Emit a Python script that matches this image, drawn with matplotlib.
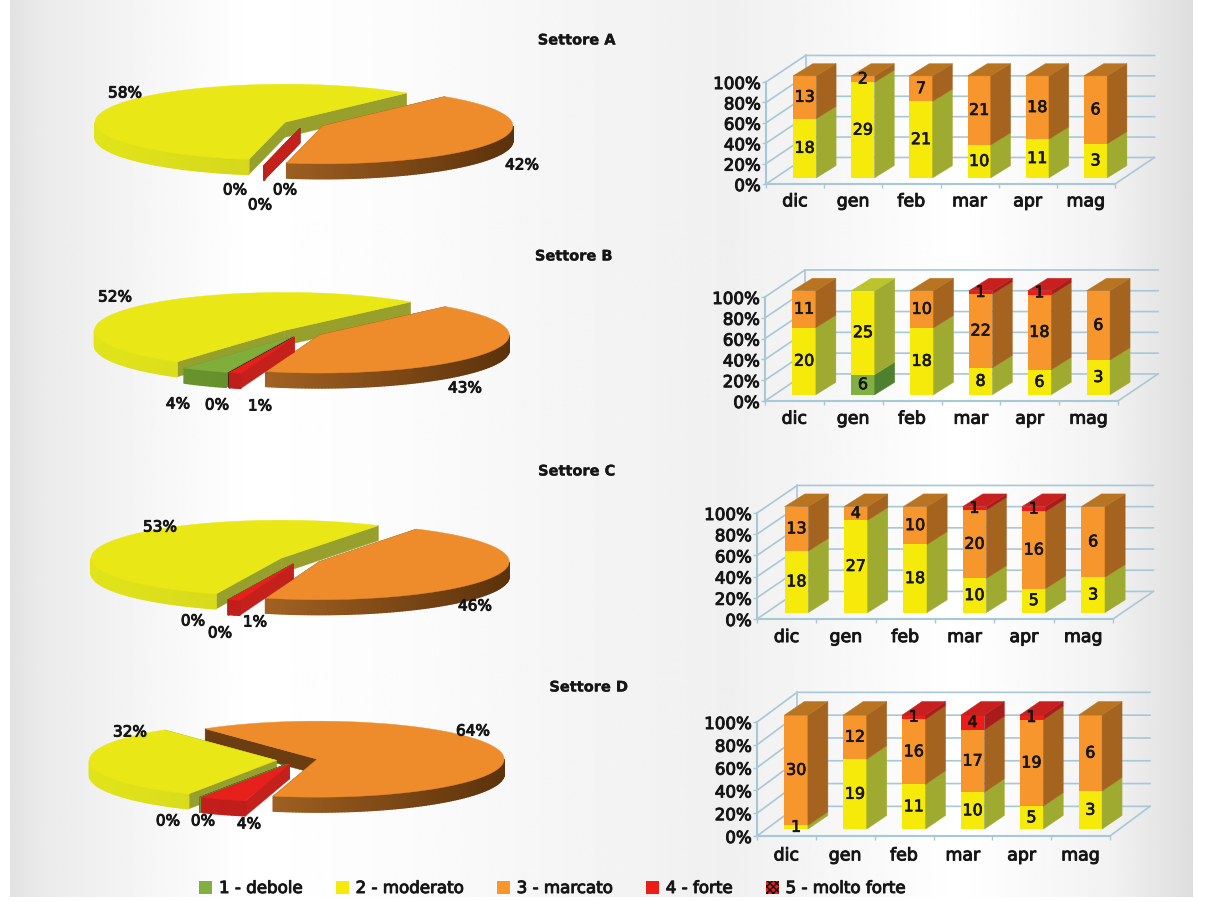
import numpy as np
import matplotlib
matplotlib.use('Agg')
import matplotlib.pyplot as plt
import matplotlib.patheffects as pe
from matplotlib.colors import to_rgb
from matplotlib.patches import Patch

W, H = 1205, 902

# data
sectors = ['Settore A', 'Settore B', 'Settore C', 'Settore D']
classes = ['1 - debole', '2 - moderato', '3 - marcato', '4 - forte', '5 - molto forte']
months = ['dic', 'gen', 'feb', 'mar', 'apr', 'mag']

pie_a = [0, 58, 42, 0, 0]
pie_b = [4, 52, 43, 1, 0]
pie_c = [0, 53, 46, 1, 0]
pie_d = [0, 32, 64, 4, 0]

debole_a = [0, 0, 0, 0, 0, 0]
moderato_a = [18, 29, 21, 10, 11, 3]
marcato_a = [13, 2, 7, 21, 18, 6]
forte_a = [0, 0, 0, 0, 0, 0]

debole_b = [0, 6, 0, 0, 0, 0]
moderato_b = [20, 25, 18, 8, 6, 3]
marcato_b = [11, 0, 10, 22, 18, 6]
forte_b = [0, 0, 0, 1, 1, 0]

debole_c = [0, 0, 0, 0, 0, 0]
moderato_c = [18, 27, 18, 10, 5, 3]
marcato_c = [13, 4, 10, 20, 16, 6]
forte_c = [0, 0, 0, 1, 1, 0]

debole_d = [0, 0, 0, 0, 0, 0]
moderato_d = [1, 19, 11, 10, 5, 3]
marcato_d = [30, 12, 16, 17, 19, 6]
forte_d = [0, 0, 1, 4, 1, 0]

molto_forte = [0, 0, 0, 0, 0, 0]

# layout, in pixels of the picture
title_xy = [(577, 40), (574, 256), (577, 471), (589, 687)]
pie_geom = [(304, 124, 190, 259), (301, 333, 190, 250), (300, 560, 190, 250), (297, 760, 187, 242)]
bar_geom = [(766, 1115, 82, 184), (765, 1118, 297, 401), (757, 1113, 513, 619), (757, 1110, 722, 836)]
pie_label_xy = [
    [(125, 93), (522, 165), (235, 190), (285, 190), (260, 205)],
    [(115, 297), (465, 388), (178, 404), (217, 405), (260, 406)],
    [(160, 527), (475, 606), (193, 621), (220, 633), (255, 622)],
    [(130, 732), (473, 731), (168, 821), (203, 821), (249, 824)],
]
pie_label_txt = [
    ['58%', '42%', '0%', '0%', '0%'],
    ['52%', '43%', '4%', '0%', '1%'],
    ['53%', '46%', '0%', '0%', '1%'],
    ['32%', '64%', '0%', '0%', '4%'],
]

# colours per class: top, radial face, bar side, bar top
TOP = ['#7fae3a', '#e9e715', '#ee8c2b', '#e8201c', '#2a0d0d']
FACE = ['#5f8a30', '#97a02c', '#6b3d10', '#c4201c', '#140808']
ARC_L = ['#6f9a30', '#e2e41a', '#c87c30', '#d0201c', '#200a0a']
ARC_R = ['#4f7a20', '#c2c61e', '#5c320b', '#a01a18', '#100505']
FRONT = ['#80b040', '#f5ea0a', '#f6962d', '#ee1c18', '#2a0d0d']
SIDE = ['#4f8030', '#9eaa30', '#a4631f', '#a81c1c', '#140808']
CAP = ['#5f9030', '#bcc42c', '#b87420', '#c8201e', '#200a0a']
GRID = '#a8c8d6'
INK = '#161616'
DRAW_ORDER = [4, 0, 1, 2, 3]

fig = plt.figure(figsize=(W / 100, H / 100), dpi=100, facecolor='white')
plt.rcParams['font.family'] = ['DejaVu Sans']


def px_axes(left, right, top, bottom):
    ax = fig.add_axes([left / W, 1 - bottom / H, (right - left) / W, (bottom - top) / H])
    ax.patch.set_alpha(0)
    return ax


def px_text(x, y, s, size=11, weight='normal', stroke=0.7):
    fig.text(x / W, 1 - y / H, s, ha='center', va='center', fontsize=size, fontweight=weight, color=INK,
             path_effects=[pe.withStroke(linewidth=stroke, foreground=INK)], zorder=20)


def background():
    ax = fig.add_axes([10 / W, 1 - 897 / H, 1183 / W, 897 / H])
    xs = np.linspace(0, 1183, 600)
    stops = [0, 30, 130, 240, 400, 560, 720, 950, 1100, 1183]
    greys = [0.89, 0.92, 0.96, 1.0, 0.985, 0.96, 0.94, 1.0, 0.95, 0.87]
    g = np.interp(xs, stops, greys)
    ax.imshow(np.tile(g, (2, 1)), cmap='gray', vmin=0, vmax=1, aspect='auto')
    ax.axis('off')


def draw_pie(values, cx, cy, R, start, labels_xy, labels_txt):
    ry = 38.0
    depth = 15.0 / ry
    explode = 0.11
    ax = px_axes(cx - 1.4 * R, cx + 1.4 * R, cy - 1.4 * ry, cy + 2.0 * ry)
    ax.set_xlim(-1.4, 1.4)
    ax.set_ylim(-2.0, 1.4)
    ax.axis('off')

    # clockwise from the start angle, like the spreadsheet does it
    slices = []
    a = start
    for i, v in enumerate(values):
        sweep = v * 3.6
        slices.append((i, a - sweep, a))
        a -= sweep

    def key(s):
        mid = np.radians((s[1] + s[2]) / 2)
        return (-round(np.sin(mid), 2), DRAW_ORDER.index(s[0]))

    for i, a0, a1 in sorted(slices, key=key):
        mid = np.radians((a0 + a1) / 2)
        ox = explode * np.cos(mid)
        oy = explode * np.sin(mid)
        t = np.radians(np.linspace(a0, a1, max(int(a1 - a0), 2)))
        x = ox + np.cos(t)
        y = oy + np.sin(t)
        # radial faces
        for k in [0, -1]:
            ax.fill([ox, x[k], x[k], ox], [oy, y[k], y[k] - depth, oy - depth],
                    color=FACE[i], lw=0.3, zorder=1)
        # outer wall, shaded by small pieces
        c0, c1 = np.array(to_rgb(ARC_L[i])), np.array(to_rgb(ARC_R[i]))
        for k in range(len(t) - 1):
            if np.sin(t[k]) + np.sin(t[k + 1]) < 0:
                f = (np.cos(t[k]) + 1) / 2
                ax.fill([x[k], x[k + 1], x[k + 1], x[k]],
                        [y[k], y[k + 1], y[k + 1] - depth, y[k] - depth],
                        color=c0 + (c1 - c0) * f, lw=1.0, zorder=1)
        if a1 > a0:
            ax.fill(np.r_[ox, x], np.r_[oy, y], color=TOP[i], lw=0.3, zorder=1)

    for (lx, ly), txt in zip(labels_xy, labels_txt):
        px_text(lx, ly, txt, size=11)


def draw_bars(series, left, right, top, bottom):
    ax = px_axes(left, right, top, bottom)
    ax.set_xlim(0, 6)
    ax.set_ylim(0, 100)
    for s in ['top', 'right']:
        ax.spines[s].set_visible(False)
    for s in ['left', 'bottom']:
        ax.spines[s].set_color(GRID)
        ax.spines[s].set_linewidth(1.5)
    ax.set_yticks(np.arange(0, 101, 20))
    ax.set_yticklabels(['%d%%' % v for v in range(0, 101, 20)], fontsize=12, color=INK,
                       path_effects=[pe.withStroke(linewidth=0.7, foreground=INK)])
    ax.set_xticks(np.arange(0, 7))
    ax.set_xticklabels([])
    ax.tick_params(axis='both', color=GRID, length=3, width=1)
    ax.tick_params(axis='y', pad=1)

    wall_dx, wall_dy = 0.68, 26
    bar_dx, bar_dy = 0.165, 6
    side_dx, side_dy = 0.34, 12
    width = 0.40

    # walls
    for v in range(0, 101, 20):
        ax.plot([0, wall_dx, 6 + wall_dx], [v, v + wall_dy, v + wall_dy], color=GRID, lw=1.2, clip_on=False, zorder=1)
    ax.plot([wall_dx, wall_dx], [wall_dy, 100 + wall_dy], color=GRID, lw=1.2, clip_on=False, zorder=1)
    ax.plot([6, 6 + wall_dx], [0, wall_dy], color=GRID, lw=1.2, clip_on=False, zorder=1)

    counts = np.array(series, dtype=float)
    totals = counts.sum(axis=0)
    for m, label in enumerate(months):
        x0 = m + 0.5 + bar_dx - width / 2
        base = bar_dy
        last = None
        for c in range(len(series)):
            if counts[c, m] == 0:
                continue
            h = counts[c, m] / totals[m] * 100
            ax.bar(x0 + width / 2, h, width, bottom=base, color=FRONT[c], clip_on=False, zorder=3)
            ax.fill([x0 + width, x0 + width + side_dx, x0 + width + side_dx, x0 + width],
                    [base, base + side_dy, base + h + side_dy, base + h],
                    color=SIDE[c], lw=0.3, clip_on=False, zorder=3)
            ax.text(x0 + width / 2, base + h / 2, '%d' % counts[c, m], ha='center', va='center',
                    fontsize=11.5, color=INK, zorder=5, clip_on=False,
                    path_effects=[pe.withStroke(linewidth=0.5, foreground=INK)])
            base += h
            last = c
        ax.fill([x0, x0 + width, x0 + width + side_dx, x0 + side_dx],
                [base, base, base + side_dy, base + side_dy],
                color=CAP[last], lw=0.3, clip_on=False, zorder=3)
        ax.text(m + 0.5, -17, label, ha='center', va='center', fontsize=12.5, color=INK, clip_on=False,
                path_effects=[pe.withStroke(linewidth=0.7, foreground=INK)])


background()

pies = [pie_a, pie_b, pie_c, pie_d]
bars = [
    [debole_a, moderato_a, marcato_a, forte_a, molto_forte],
    [debole_b, moderato_b, marcato_b, forte_b, molto_forte],
    [debole_c, moderato_c, marcato_c, forte_c, molto_forte],
    [debole_d, moderato_d, marcato_d, forte_d, molto_forte],
]

for n in range(4):
    px_text(title_xy[n][0], title_xy[n][1], sectors[n], size=10.5, weight='bold', stroke=0.2)
    cx, cy, R, start = pie_geom[n]
    draw_pie(pies[n], cx, cy, R, start, pie_label_xy[n], pie_label_txt[n])
    draw_bars(bars[n], *bar_geom[n])

# legend
handles = [Patch(facecolor=FRONT[0], edgecolor='none'),
           Patch(facecolor=FRONT[1], edgecolor='none'),
           Patch(facecolor=FRONT[2], edgecolor='none'),
           Patch(facecolor=FRONT[3], edgecolor='none'),
           Patch(facecolor='#e8201c', edgecolor='#140808', hatch='xxxxx', lw=0)]
leg = fig.legend(handles, classes, ncols=5, loc='center left', bbox_to_anchor=(184 / W, 1 - 888 / H),
                 frameon=False, fontsize=12, handlelength=0.8, handleheight=0.8,
                 handletextpad=0.4, columnspacing=2.0, labelcolor=INK)
for t in leg.get_texts():
    t.set_path_effects([pe.withStroke(linewidth=0.7, foreground=INK)])

fig.savefig('out.png', dpi=100)
